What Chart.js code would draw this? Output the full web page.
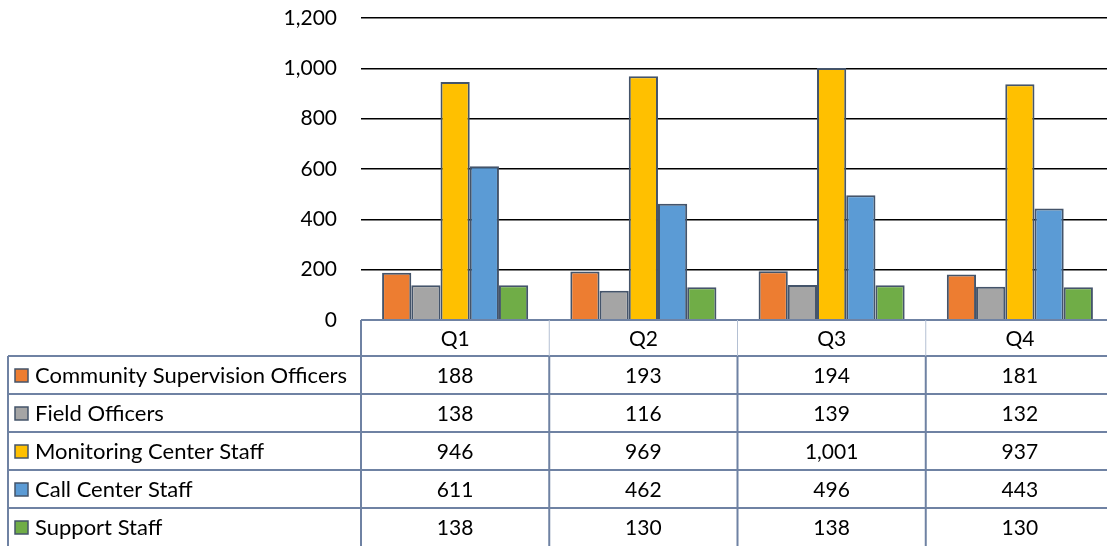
<!DOCTYPE html>
<html>
<head>
<meta charset="utf-8">
<script src="https://cdn.jsdelivr.net/npm/chart.js@4"></script>
<style>
  html, body { margin: 0; padding: 0; background: #fff; overflow: hidden; }
  #wrap { width: 1114px; height: 546px; position: relative; }
</style>
</head>
<body>
<div id="wrap"><canvas id="staff-chart"></canvas></div>
<script>
// quarterly staffing counts
const quarters = ['Q1', 'Q2', 'Q3', 'Q4'];
const seriesNames = ['Community Supervision Officers', 'Field Officers', 'Monitoring Center Staff', 'Call Center Staff', 'Support Staff'];
const supervisionOfficers = [188, 193, 194, 181];
const fieldOfficers = [138, 116, 139, 132];
const monitoringStaff = [946, 969, 1001, 937];
const callCenterStaff = [611, 462, 496, 443];
const supportStaff = [138, 130, 138, 130];
const yTicks = [0, 200, 400, 600, 800, 1000, 1200];

const seriesColors = ['#ED7D31', '#A5A5A5', '#FFC000', '#5B9BD5', '#70AD47'];
const FONT = "Lato, 'Noto Sans', sans-serif";
const LINE = '#6F82A3';

const dataTable = {
  id: 'dataTable',
  afterDraw(chart) {
    const { ctx, chartArea, scales } = chart;
    const x = scales.x;
    const top = chartArea.bottom;
    const headH = 36, rowH = 38, left = 8;
    const half = (x.getPixelForValue(1) - x.getPixelForValue(0)) / 2;
    const right = chart.width;
    ctx.save();
    ctx.fillStyle = '#000';
    ctx.textBaseline = 'middle';

    // header row
    ctx.font = '21px ' + FONT;
    ctx.textAlign = 'center';
    quarters.forEach((q, i) => ctx.fillText(q, x.getPixelForValue(i), top + headH / 2 + 1));

    // data rows
    chart.data.datasets.forEach((ds, r) => {
      const cy = top + headH + rowH * r + rowH / 2 + 1;
      ctx.fillStyle = seriesColors[r];
      ctx.fillRect(15, cy - 7, 13, 13);
      ctx.strokeStyle = '#44546A';
      ctx.lineWidth = 1.5;
      ctx.strokeRect(15, cy - 7, 13, 13);
      ctx.fillStyle = '#000';
      ctx.textAlign = 'left';
      ctx.font = '22px ' + FONT;
      ctx.fillText(ds.label, 35, cy);
      ctx.textAlign = 'center';
      ctx.font = '21px ' + FONT;
      ds.data.forEach((v, i) => ctx.fillText(v.toLocaleString('en-US'), x.getPixelForValue(i), cy));
    });

    // grid lines
    ctx.strokeStyle = LINE;
    ctx.lineWidth = 2;
    ctx.beginPath();
    ctx.moveTo(chartArea.left, top); ctx.lineTo(right, top);
    for (let r = 0; r <= seriesNames.length - 1; r++) {
      const y = top + headH + rowH * r;
      ctx.moveTo(left, y); ctx.lineTo(right, y);
    }
    ctx.moveTo(left, top + headH); ctx.lineTo(left, chart.height);
    ctx.moveTo(chartArea.left, top); ctx.lineTo(chartArea.left, chart.height);
    for (let i = 1; i < quarters.length; i++) {
      const bx = x.getPixelForValue(i) - half;
      ctx.moveTo(bx, top + headH); ctx.lineTo(bx, chart.height);
    }
    ctx.stroke();

    ctx.strokeStyle = '#B4C0D3';
    ctx.lineWidth = 1;
    ctx.beginPath();
    for (let i = 1; i < quarters.length; i++) {
      const bx = x.getPixelForValue(i) - half;
      ctx.moveTo(bx, top); ctx.lineTo(bx, top + headH);
    }
    ctx.stroke();
    ctx.restore();
  }
};

const seriesData = [supervisionOfficers, fieldOfficers, monitoringStaff, callCenterStaff, supportStaff];

new Chart(document.getElementById('staff-chart'), {
  type: 'bar',
  data: {
    labels: quarters,
    datasets: seriesNames.map((name, i) => ({
      label: name,
      data: seriesData[i],
      backgroundColor: seriesColors[i],
      borderColor: '#44546A',
      borderWidth: 2,
      barPercentage: 1,
      categoryPercentage: 0.776,
    })),
  },
  options: {
    responsive: true,
    maintainAspectRatio: false,
    animation: false,
    layout: { padding: { top: 18, bottom: 226, left: 0, right: 0 } },
    plugins: { legend: { display: false }, tooltip: { enabled: false } },
    scales: {
      x: { display: false },
      y: {
        min: 0,
        max: 1200,
        afterFit: (s) => { s.width = 361; s.paddingTop = 0; s.paddingBottom = 0; },
        afterBuildTicks: (s) => { s.ticks = yTicks.map((v) => ({ value: v })); },
        border: { display: false },
        grid: {
          drawTicks: false,
          lineWidth: 1.5,
          color: (c) => (c.tick && c.tick.value === 0 ? 'rgba(0,0,0,0)' : '#000'),
        },
        ticks: {
          padding: 24,
          color: '#000',
          font: { family: FONT, size: 21 },
          callback: (v) => v.toLocaleString('en-US'),
        },
      },
    },
  },
  plugins: [dataTable],
});
</script>
</body>
</html>
